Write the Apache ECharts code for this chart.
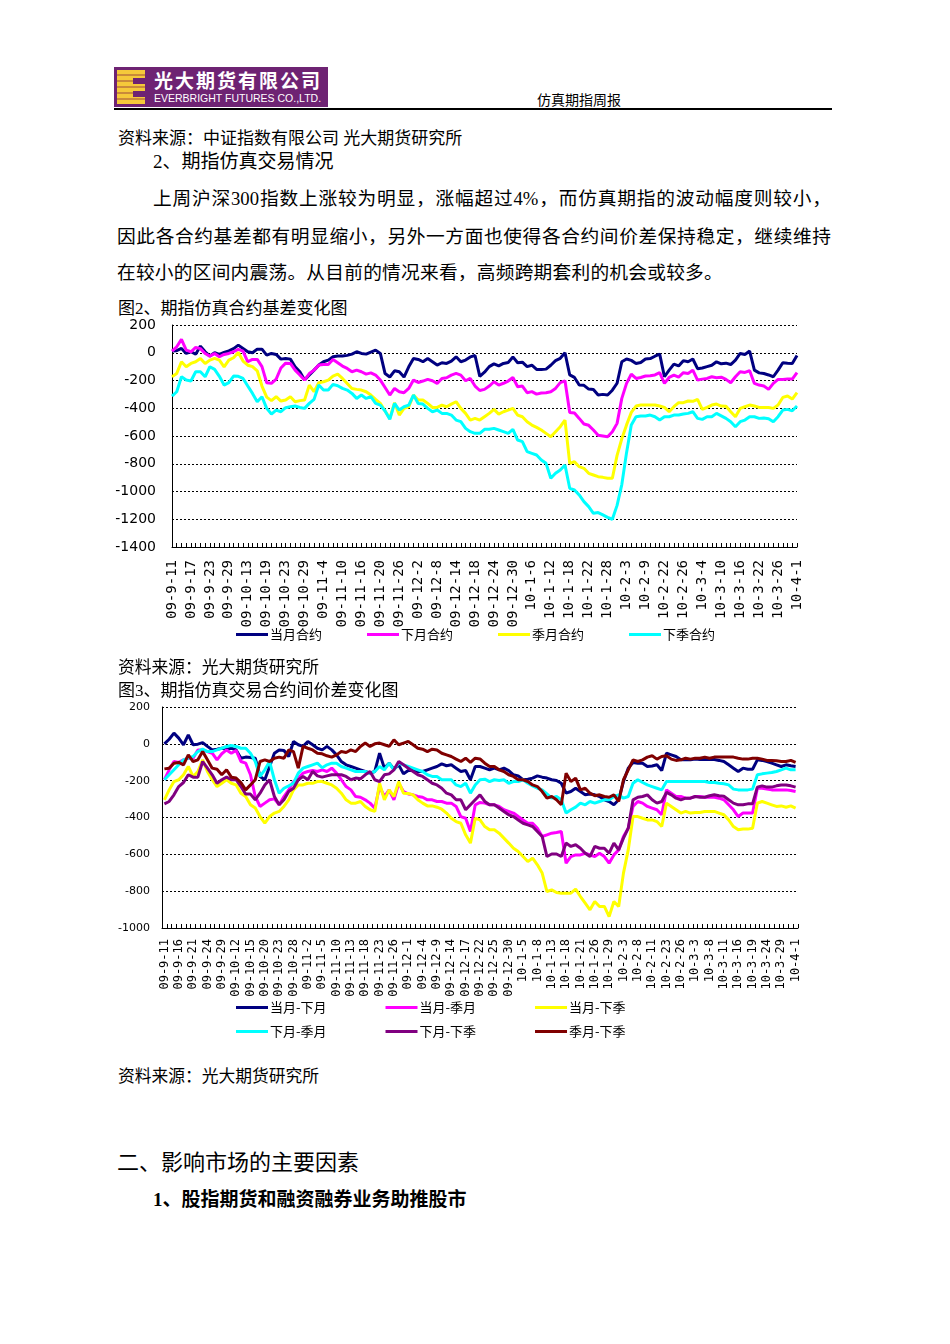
<!DOCTYPE html>
<html><head><meta charset="utf-8">
<script src="https://cdn.jsdelivr.net/npm/echarts@6/dist/echarts.min.js"></script>
<style>
html,body{margin:0;padding:0;background:#fff}
body{width:950px;height:1344px;position:relative;overflow:hidden;font-family:"Liberation Serif","Noto Sans CJK SC",serif;color:#000}
.t{position:absolute;white-space:nowrap}
.j{position:absolute;white-space:nowrap;text-align:justify;text-align-last:justify}
#logo{position:absolute;left:114px;top:67px;width:214px;height:40px;background:#6e2373}
#logoE{position:absolute;left:3px;top:3px;width:28px;height:34px;background:repeating-linear-gradient(180deg,#f5c93a 0px,#f5c93a 4px,#c98a3a 4px,#c98a3a 6px)}
#logoE:after{content:"";position:absolute;left:16px;top:8px;width:12px;height:6px;background:#6e2373}
#logoE:before{content:"";position:absolute;left:16px;top:21px;width:12px;height:6px;background:#6e2373}
#c1{position:absolute;left:0;top:300px;width:950px;height:360px}
#c2{position:absolute;left:0;top:690px;width:950px;height:360px}
</style></head><body>

<div id="logo">
  <div id="logoE"></div>
  <div class="t" style="left:40px;top:2px;font-family:'Noto Sans CJK SC';font-weight:bold;font-size:19px;line-height:22px;color:#fff;letter-spacing:2px">光大期货有限公司</div>
  <div class="t" style="left:40px;top:25px;font-family:'Liberation Sans';font-size:10.5px;line-height:12px;color:#fff">EVERBRIGHT FUTURES CO.,LTD.</div>
</div>
<div class="t" style="left:537px;top:93px;font-size:14px;line-height:16px">仿真期指周报</div>
<div style="position:absolute;left:114px;top:108px;width:718px;height:2px;background:#000"></div>

<div class="t" style="left:118px;top:130px;font-size:17px;line-height:17px">资料来源：中证指数有限公司 光大期货研究所</div>
<div class="t" style="left:153px;top:152px;font-size:19px;line-height:20px">2、期指仿真交易情况</div>
<div class="j" style="left:153px;top:189px;width:678px;font-size:18.7px;line-height:20px">上周沪深300指数上涨较为明显，涨幅超过4%，而仿真期指的波动幅度则较小，</div>
<div class="j" style="left:117px;top:227px;width:714px;font-size:18.7px;line-height:20px">因此各合约基差都有明显缩小，另外一方面也使得各合约间价差保持稳定，继续维持</div>
<div class="t" style="left:117px;top:263px;font-size:18.7px;line-height:20px;letter-spacing:0.25px">在较小的区间内震荡。从目前的情况来看，高频跨期套利的机会或较多。</div>
<div class="t" style="left:118px;top:300px;font-size:17px;line-height:18px">图2、期指仿真合约基差变化图</div>

<div id="c1"></div>

<div class="t" style="left:118px;top:659px;font-size:16.75px;line-height:17px">资料来源：光大期货研究所</div>
<div class="t" style="left:118px;top:682px;font-size:17px;line-height:18px">图3、期指仿真交易合约间价差变化图</div>

<div id="c2"></div>

<div class="t" style="left:118px;top:1068px;font-size:16.75px;line-height:17px">资料来源：光大期货研究所</div>
<div class="t" style="left:117px;top:1152px;font-size:22px;line-height:22px">二、影响市场的主要因素</div>
<div class="t" style="left:153px;top:1190px;font-size:19px;line-height:20px;font-weight:bold">1、股指期货和融资融券业务助推股市</div>

<script>
// ---------- categories (trading days) ----------
const dates = [
"09-9-11","09-9-14","09-9-15","09-9-16","09-9-17","09-9-18","09-9-21","09-9-22","09-9-23","09-9-24","09-9-25","09-9-28","09-9-29","09-9-30",
"09-10-9","09-10-12","09-10-13","09-10-14","09-10-15","09-10-16","09-10-19","09-10-20","09-10-21","09-10-22","09-10-23","09-10-26","09-10-27","09-10-28","09-10-29","09-10-30",
"09-11-2","09-11-3","09-11-4","09-11-5","09-11-6","09-11-9","09-11-10","09-11-11","09-11-12","09-11-13","09-11-16","09-11-17","09-11-18","09-11-19","09-11-20","09-11-23","09-11-24","09-11-25","09-11-26","09-11-27","09-11-30",
"09-12-1","09-12-2","09-12-3","09-12-4","09-12-7","09-12-8","09-12-9","09-12-10","09-12-11","09-12-14","09-12-15","09-12-16","09-12-17","09-12-18","09-12-21","09-12-22","09-12-23","09-12-24","09-12-25","09-12-28","09-12-29","09-12-30","09-12-31",
"10-1-4","10-1-5","10-1-6","10-1-7","10-1-8","10-1-11","10-1-12","10-1-13","10-1-14","10-1-15","10-1-18","10-1-19","10-1-20","10-1-21","10-1-22","10-1-25","10-1-26","10-1-27","10-1-28","10-1-29",
"10-2-1","10-2-2","10-2-3","10-2-4","10-2-5","10-2-8","10-2-9","10-2-10","10-2-11","10-2-12","10-2-22","10-2-23","10-2-24","10-2-25","10-2-26",
"10-3-1","10-3-2","10-3-3","10-3-4","10-3-5","10-3-8","10-3-9","10-3-10","10-3-11","10-3-12","10-3-15","10-3-16","10-3-17","10-3-18","10-3-19","10-3-22","10-3-23","10-3-24","10-3-25","10-3-26","10-3-29","10-3-30","10-3-31",
"10-4-1"];

// ---------- Figure 2: basis ----------
const names1 = ["当月合约","下月合约","季月合约","下季合约"];
const basisCur = [
12,15,31,-5,7,-10,48,7,-24,0,
-12,2,14,30,55,31,7,0,26,26,
-17,-5,-12,-46,-41,-46,-101,-137,-197,-161,
-125,-89,-65,-53,-29,-24,-24,-19,-10,7,
-5,-10,5,19,-5,-150,-175,-130,-137,-175,
-101,-41,-48,-65,-41,-65,-89,-72,-77,-60,
-29,-65,-53,-30,-20,-170,-140,-100,-80,-95,
-77,-70,-30,-72,-68,-100,-90,-120,-120,-118,
-90,-57,-40,0,-160,-178,-233,-235,-262,-265,
-305,-300,-305,-270,-220,-65,-45,-55,-77,-70,
-45,-42,-25,-10,-173,-125,-82,-95,-57,-65,
-45,-115,-110,-100,-90,-65,-80,-75,-85,-53,
-5,-12,12,-125,-145,-150,-160,-173,-125,-72,
-75,-77,-20];
const basisNext = [
12,43,96,19,7,38,30,-5,-24,-5,
-29,-12,-5,7,24,12,-65,-48,-48,-100,
-216,-220,-190,-110,-75,-77,-125,-160,-197,-150,
-125,-89,-85,-85,-48,-72,-96,-113,-137,-125,
-137,-154,-145,-161,-197,-250,-305,-257,-281,-288,
-257,-197,-214,-204,-192,-202,-221,-185,-180,-161,
-149,-161,-202,-185,-240,-272,-264,-240,-209,-233,
-220,-204,-178,-245,-240,-288,-280,-298,-290,-288,
-281,-257,-215,-202,-430,-435,-473,-514,-523,-557,
-595,-600,-605,-569,-509,-329,-221,-154,-185,-178,
-168,-165,-160,-144,-221,-178,-161,-175,-144,-150,
-125,-197,-190,-185,-173,-180,-176,-192,-216,-173,
-137,-142,-130,-221,-233,-240,-264,-221,-192,-192,
-190,-190,-144];
const basisQ = [
-173,-149,-65,-101,-77,-65,-41,-77,-53,-41,
-53,-101,-53,-36,2,-60,-90,-100,-130,-240,
-320,-345,-317,-348,-340,-317,-353,-345,-341,-233,
-281,-216,-209,-197,-168,-154,-185,-221,-257,-264,
-269,-281,-305,-336,-365,-420,-473,-360,-449,-401,
-389,-305,-341,-341,-365,-394,-394,-377,-389,-370,
-353,-401,-437,-485,-473,-485,-461,-437,-408,-442,
-425,-413,-401,-449,-461,-497,-521,-538,-557,-581,
-605,-569,-533,-485,-797,-785,-821,-833,-869,-881,
-893,-898,-905,-905,-740,-620,-520,-430,-384,-377,
-377,-377,-377,-384,-394,-425,-389,-360,-360,-348,
-350,-336,-408,-394,-377,-370,-384,-385,-425,-461,
-401,-389,-377,-384,-394,-394,-395,-401,-377,-322,
-312,-334,-288];
const basisNQ = [
-312,-281,-173,-197,-204,-137,-137,-173,-101,-120,
-170,-233,-215,-168,-170,-185,-240,-293,-353,-317,
-401,-442,-413,-425,-396,-389,-384,-394,-401,-365,
-336,-233,-269,-269,-228,-238,-257,-269,-293,-329,
-305,-329,-317,-365,-377,-420,-480,-365,-413,-389,
-377,-305,-365,-370,-401,-425,-413,-437,-437,-449,
-485,-497,-545,-569,-581,-581,-552,-552,-545,-557,
-569,-581,-552,-629,-641,-713,-725,-737,-773,-797,
-905,-869,-845,-809,-977,-989,-1025,-1073,-1109,-1157,
-1152,-1169,-1186,-1200,-1100,-950,-720,-520,-461,-456,
-456,-449,-461,-485,-461,-461,-449,-449,-442,-437,
-425,-473,-480,-461,-461,-437,-455,-473,-497,-533,
-497,-485,-461,-461,-473,-470,-475,-497,-461,-413,
-408,-418,-384];

// ---------- Figure 3: spreads ----------
const names2 = ["当月-下月","当月-季月","当月-下季","下月-季月","下月-下季","季月-下季"];
const spCurNext = [
0,25,58,31,-5,49,-5,-2,7,-14,
-33,-29,-24,-29,-24,-33,-78,-72,-74,-78,
-177,-195,-123,-51,-33,-36,-69,13,-5,-14,
13,-5,-24,-33,-14,-33,-60,-96,-114,-123,
-132,-141,-150,-159,-150,-51,-132,-105,-138,-114,
-163,-145,-145,-150,-150,-141,-132,-123,-109,-119,
-114,-132,-150,-145,-195,-123,-123,-132,-141,-132,
-141,-132,-145,-168,-174,-195,-192,-186,-174,-181,
-186,-195,-199,-214,-268,-259,-241,-259,-277,-272,
-277,-286,-304,-313,-331,-304,-205,-132,-101,-105,
-105,-123,-120,-114,-145,-51,-60,-69,-87,-87,
-87,-83,-85,-85,-85,-85,-90,-96,-114,-132,
-150,-132,-138,-138,-87,-90,-96,-105,-114,-123,
-114,-119,-123];
const spCurQ = [
-195,-141,-96,-101,-87,-78,-78,-33,-33,-42,
-51,-87,-54,-33,-51,-36,-96,-105,-168,-286,
-340,-322,-304,-299,-331,-286,-250,-205,-186,-159,
-150,-145,-150,-141,-150,-132,-159,-195,-232,-250,
-286,-290,-304,-322,-349,-232,-286,-250,-304,-214,
-259,-272,-277,-286,-290,-304,-304,-313,-313,-322,
-322,-340,-395,-404,-476,-331,-318,-322,-331,-331,
-340,-358,-367,-376,-395,-413,-431,-431,-458,-503,
-494,-485,-481,-476,-648,-612,-603,-603,-594,-603,
-612,-594,-612,-648,-603,-576,-503,-458,-340,-313,
-322,-340,-349,-358,-385,-250,-268,-286,-286,-295,
-295,-286,-286,-290,-290,-290,-295,-304,-331,-358,
-395,-376,-376,-376,-241,-241,-246,-250,-250,-250,
-250,-253,-259];
const spCurNQ = [
-304,-250,-205,-195,-168,-123,-177,-150,-87,-150,
-195,-232,-214,-195,-214,-223,-268,-286,-331,-349,
-395,-431,-395,-376,-367,-340,-304,-250,-223,-223,
-214,-214,-205,-205,-214,-223,-241,-268,-304,-322,
-322,-313,-340,-358,-367,-214,-304,-250,-286,-205,
-268,-270,-277,-304,-322,-337,-337,-344,-355,-376,
-404,-422,-431,-494,-539,-404,-413,-449,-467,-467,
-485,-512,-539,-567,-585,-612,-639,-621,-657,-702,
-802,-793,-807,-811,-811,-811,-789,-829,-865,-901,
-856,-883,-883,-938,-856,-883,-702,-576,-395,-395,
-404,-413,-413,-422,-449,-322,-340,-358,-376,-367,
-376,-373,-373,-367,-367,-367,-376,-385,-413,-449,
-467,-463,-463,-458,-322,-313,-322,-331,-340,-337,
-344,-337,-349];
const spNextQ = [
-195,-168,-141,-114,-87,-78,-69,-42,-29,-42,
-42,-33,-24,-14,-9,-14,-24,-24,-51,-96,
-177,-141,-96,-195,-268,-241,-228,-214,-159,-132,
-123,-114,-105,-130,-114,-105,-105,-123,-132,-141,
-150,-150,-150,-159,-150,-123,-141,-105,-141,-105,
-114,-123,-132,-141,-150,-168,-177,-177,-195,-195,
-195,-223,-232,-214,-268,-223,-195,-192,-205,-195,
-199,-195,-214,-205,-205,-195,-214,-228,-241,-250,
-272,-295,-286,-304,-376,-358,-344,-322,-331,-313,
-322,-313,-304,-304,-286,-277,-295,-286,-214,-195,
-210,-223,-232,-241,-250,-205,-205,-205,-205,-205,
-205,-205,-205,-205,-210,-210,-214,-217,-223,-246,
-250,-250,-250,-246,-168,-163,-159,-156,-150,-141,
-132,-141,-141];
const spNextNQ = [
-326,-313,-277,-232,-210,-168,-181,-181,-96,-132,
-168,-214,-195,-181,-195,-195,-232,-273,-273,-304,
-268,-223,-195,-286,-331,-304,-259,-241,-195,-177,
-195,-150,-174,-181,-174,-168,-168,-168,-177,-195,
-186,-190,-168,-150,-195,-205,-168,-163,-141,-96,
-114,-132,-150,-168,-177,-195,-214,-223,-241,-268,
-277,-304,-304,-358,-331,-304,-277,-313,-331,-331,
-349,-367,-385,-395,-413,-431,-440,-449,-476,-503,
-612,-598,-598,-612,-539,-557,-548,-567,-594,-612,
-557,-567,-567,-594,-539,-576,-512,-458,-304,-290,
-286,-277,-304,-322,-313,-264,-277,-295,-304,-295,
-295,-286,-290,-290,-282,-277,-282,-285,-304,-322,
-331,-331,-326,-326,-235,-228,-235,-235,-228,-223,
-223,-228,-235];
const spQNQ = [
-136,-132,-105,-101,-114,-60,-96,-87,-42,-87,
-132,-138,-168,-141,-181,-186,-210,-250,-223,-195,
-96,-87,-96,-78,-72,-78,-33,-42,-132,-14,
-24,-33,-51,-54,-65,-72,-60,-42,-47,-33,
-42,-14,4,-14,0,4,-5,-14,22,-5,
4,13,-5,-24,-29,-42,-29,-33,-51,-60,
-69,-83,-96,-78,-101,-78,-82,-105,-123,-123,
-141,-150,-168,-177,-195,-195,-205,-223,-232,-259,
-295,-286,-304,-331,-159,-205,-186,-250,-241,-268,
-282,-277,-286,-290,-277,-313,-195,-141,-87,-96,
-87,-72,-65,-83,-69,-65,-83,-90,-87,-78,
-83,-78,-78,-72,-78,-72,-72,-72,-72,-72,
-78,-83,-83,-78,-78,-83,-90,-90,-92,-96,
-96,-90,-101];

const colors1 = ["#000080","#FF00FF","#FFFF00","#00FFFF"];
const colors2 = ["#000080","#FF00FF","#FFFF00","#00FFFF","#800080","#800000"];

function lineSeries(name, data, color){
  return {name:name,type:'line',data:data,symbol:'none',color:color,
    lineStyle:{width:3,color:color},itemStyle:{color:color},
    emphasis:{disabled:true},silent:true};
}
function legendCfg(names, left, top, gap, fs){
  return {data:names,left:left,top:top,orient:'horizontal',padding:0,icon:'rect',
    itemWidth:32,itemHeight:3,itemGap:gap,selectedMode:false,
    textStyle:{fontSize:fs,color:'#000',fontFamily:'Noto Sans CJK SC',padding:[0,0,0,-3]}};
}
const plain = v => String(v);

// Chart 1
const c1 = echarts.init(document.getElementById('c1'));
c1.setOption({
  animation:false,
  grid:{left:172,top:25,width:625,height:222,containLabel:false},
  xAxis:{type:'category',data:dates,boundaryGap:false,
    axisLine:{onZero:false,lineStyle:{color:'#000',width:1}},
    axisTick:{show:true,inside:true,length:4,interval:0,lineStyle:{color:'#000'}},
    axisLabel:{interval:3,rotate:90,margin:13,fontSize:14,color:'#000',fontFamily:'DejaVu Sans Mono'},
    splitLine:{show:false}},
  yAxis:{type:'value',min:-1400,max:200,interval:200,
    axisLine:{show:true,lineStyle:{color:'#000',width:1}},axisTick:{show:false},
    axisLabel:{fontSize:14,color:'#000',margin:16,fontFamily:'DejaVu Sans',formatter:plain},
    splitLine:{show:true,lineStyle:{color:'#000',type:[2,2],width:1}}},
  legend:legendCfg(names1,236,328,45,13),
  series:[
    lineSeries(names1[0],basisCur,colors1[0]),
    lineSeries(names1[1],basisNext,colors1[1]),
    lineSeries(names1[2],basisQ,colors1[2]),
    lineSeries(names1[3],basisNQ,colors1[3])
  ]
});

// Chart 2
const c2 = echarts.init(document.getElementById('c2'));
c2.setOption({
  animation:false,
  grid:{left:162,top:17,width:636,height:221,containLabel:false},
  xAxis:{type:'category',data:dates,boundaryGap:true,
    axisLine:{onZero:false,lineStyle:{color:'#000',width:1}},
    axisTick:{show:true,inside:true,length:4,interval:0,lineStyle:{color:'#000'}},
    axisLabel:{interval:2,rotate:90,margin:11,fontSize:12,color:'#000',fontFamily:'DejaVu Sans Mono'},
    splitLine:{show:false}},
  yAxis:{type:'value',min:-1000,max:200,interval:200,
    axisLine:{show:true,lineStyle:{color:'#000',width:1}},axisTick:{show:false},
    axisLabel:{fontSize:11,color:'#000',margin:12,fontFamily:'DejaVu Sans',formatter:plain},
    splitLine:{show:true,lineStyle:{color:'#000',type:[2,2],width:1}}},
  legend:[
    legendCfg(names2.slice(0,3),236,311,59,13),
    legendCfg(names2.slice(3,6),236,335,59,13)
  ],
  series:[
    lineSeries(names2[0],spCurNext,colors2[0]),
    lineSeries(names2[1],spCurQ,colors2[1]),
    lineSeries(names2[2],spCurNQ,colors2[2]),
    lineSeries(names2[3],spNextQ,colors2[3]),
    lineSeries(names2[4],spNextNQ,colors2[4]),
    lineSeries(names2[5],spQNQ,colors2[5])
  ]
});
</script>
</body></html>
